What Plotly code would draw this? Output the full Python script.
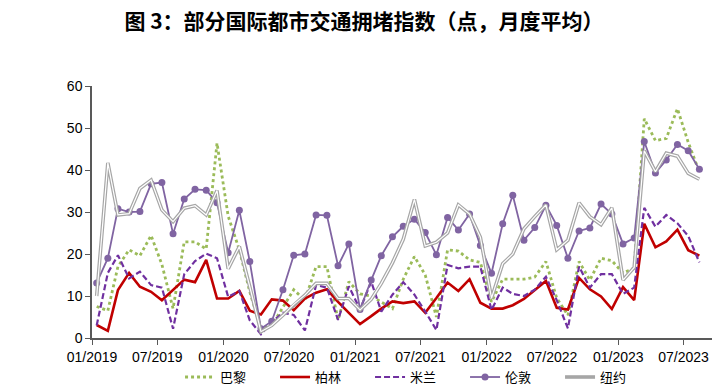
import plotly.graph_objects as go
import pandas as pd

months = pd.date_range("2019-01-01", periods=56, freq="MS") + pd.Timedelta(days=13)
dates = [d.strftime("%Y-%m-%d") for d in months]

paris = [7.5, 6.5, 17.0, 21.0, 19.6, 24.4, 17.5, 7.0, 22.9, 22.9, 21.2, 46.4, 29.0, 21.0, 11.0, 2.2,
         3.0, 7.5, 11.5, 9.0, 17.0, 17.0, 4.3, 13.4, 10.5, 10.0, 8.5, 7.0, 14.0, 19.4, 15.0, 5.0,
         21.0, 20.7, 18.6, 18.0, 8.6, 14.0, 14.0, 14.0, 14.5, 18.2, 9.5, 5.4, 18.2, 13.8, 19.0, 18.4,
         15.5, 16.6, 52.2, 47.0, 47.5, 54.6, 46.6, 39.5]
berlin = [3.1, 1.7, 11.4, 15.5, 12.2, 11.0, 9.0, 11.4, 13.9, 13.3, 18.6, 9.4, 9.4, 11.2, 6.5, 5.6,
          9.2, 8.9, 6.6, 9.4, 10.8, 11.6, 8.6, 6.0, 3.3, 5.2, 7.0, 8.7, 8.3, 8.7, 6.0, 9.5,
          13.2, 11.2, 14.0, 8.4, 7.0, 7.0, 7.8, 9.3, 11.5, 13.6, 7.2, 6.8, 14.3, 11.6, 9.9, 6.9,
          12.1, 9.0, 27.2, 21.6, 23.0, 25.8, 20.9, 19.6]
milan = [3.0, 15.5, 19.7, 14.2, 15.8, 12.6, 12.0, 2.2, 15.2, 18.3, 20.1, 19.0, 9.8, 11.2, 4.2, 0.9,
         3.8, 6.0, 5.5, 1.8, 12.6, 12.0, 4.3, 12.3, 6.8, 13.4, 6.3, 10.3, 13.3, 10.3, 6.3, 1.9,
         17.4, 16.6, 17.0, 17.0, 6.7, 12.0, 10.5, 10.0, 11.5, 14.6, 9.0, 2.3, 17.0, 12.0, 15.2, 15.2,
         10.5, 12.0, 31.0, 26.5, 29.3, 27.3, 24.3, 18.0]
london = [13.1, 19.0, 30.8, 30.0, 30.1, 36.7, 37.0, 24.8, 33.1, 35.4, 35.2, 32.2, 20.3, 30.4, 18.2, 2.2,
          4.0, 11.5, 19.7, 20.0, 29.3, 29.2, 17.2, 22.4, 6.8, 13.8, 19.6, 24.1, 26.6, 28.3, 25.1, 19.8,
          28.7, 25.7, 29.5, 22.0, 15.4, 27.2, 34.0, 23.3, 26.3, 31.6, 26.8, 19.0, 25.5, 26.2, 31.9, 29.5,
          22.4, 23.8, 46.8, 39.3, 42.4, 46.1, 44.6, 40.2]
newyork = [10.0, 41.7, 29.3, 29.6, 35.6, 37.6, 30.5, 27.7, 30.9, 31.5, 29.3, 35.1, 16.5, 21.8, 12.2, 1.5,
           3.0, 5.4, 8.0, 10.2, 13.0, 13.0, 9.4, 9.4, 6.7, 9.2, 13.0, 17.9, 23.5, 33.0, 21.9, 22.8,
           25.0, 31.7, 29.5, 24.0, 9.5, 17.7, 20.0, 26.0, 28.9, 31.7, 21.0, 23.3, 32.2, 28.9, 27.0, 31.0,
           13.8, 16.8, 44.6, 39.6, 44.0, 43.3, 39.2, 37.8]

names = ["巴黎", "柏林", "米兰", "伦敦", "纽约"]

fig = go.Figure()
fig.add_trace(go.Scatter(x=dates, y=paris, name=names[0], mode="lines",
                         line=dict(color="#9BBB59", width=2.8, dash="dot")))
fig.add_trace(go.Scatter(x=dates, y=berlin, name=names[1], mode="lines",
                         line=dict(color="#C00000", width=2.6)))
fig.add_trace(go.Scatter(x=dates, y=milan, name=names[2], mode="lines",
                         line=dict(color="#7030A0", width=2.2, dash="6px,3px")))
fig.add_trace(go.Scatter(x=dates, y=london, name=names[3], mode="lines+markers",
                         line=dict(color="#8064A2", width=1.8),
                         marker=dict(color="#8064A2", size=7)))
fig.add_trace(go.Scatter(x=dates, y=newyork, name=names[4], mode="lines",
                         legendgroup="ny",
                         line=dict(color="#A6A6A6", width=3.6)))
fig.add_trace(go.Scatter(x=dates, y=newyork, name=names[4], mode="lines",
                         legendgroup="ny", showlegend=False, hoverinfo="skip",
                         line=dict(color="#FFFFFF", width=1.2)))

fig.update_layout(
    width=728, height=388,
    margin=dict(l=92, r=16, t=86, b=50, autoexpand=False),
    paper_bgcolor="white", plot_bgcolor="white",
    title=dict(text="图 3：部分国际都市交通拥堵指数（点，月度平均）",
               x=0.5, xanchor="center", y=0.943, yanchor="middle",
               font=dict(family="Noto Sans CJK SC", size=21, color="#000000", weight="bold")),
    font=dict(family="Liberation Sans Narrow, Liberation Sans, sans-serif", size=13, color="#000000"),
    showlegend=True,
    legend=dict(orientation="h", x=0.142, xanchor="left", y=-0.155, yanchor="middle",
                font=dict(family="Noto Sans CJK SC", size=13, color="#000000"),
                entrywidth=50, entrywidthmode="pixels",
                traceorder="normal", tracegroupgap=0, bgcolor="rgba(0,0,0,0)"),
    xaxis=dict(type="date", range=["2019-01-01", "2023-09-18"],
               tick0="2019-01-01", dtick="M6", tickformat="%m/%Y",
               showgrid=False, zeroline=False,
               showline=True, linecolor="#595959", linewidth=1.5,
               ticks="outside", ticklen=5, tickcolor="#595959", tickwidth=1.2,
               tickfont=dict(size=14)),
    yaxis=dict(range=[0, 60], dtick=10, showgrid=False, zeroline=False,
               showline=True, linecolor="#595959", linewidth=1.5,
               ticks="outside", ticklen=5, tickcolor="#595959", tickwidth=1.2,
               tickfont=dict(size=14)),
)

fig.write_html("out.html", config={"displayModeBar": False},
               post_script="document.body.style.margin='0';document.body.style.overflow='hidden';")
